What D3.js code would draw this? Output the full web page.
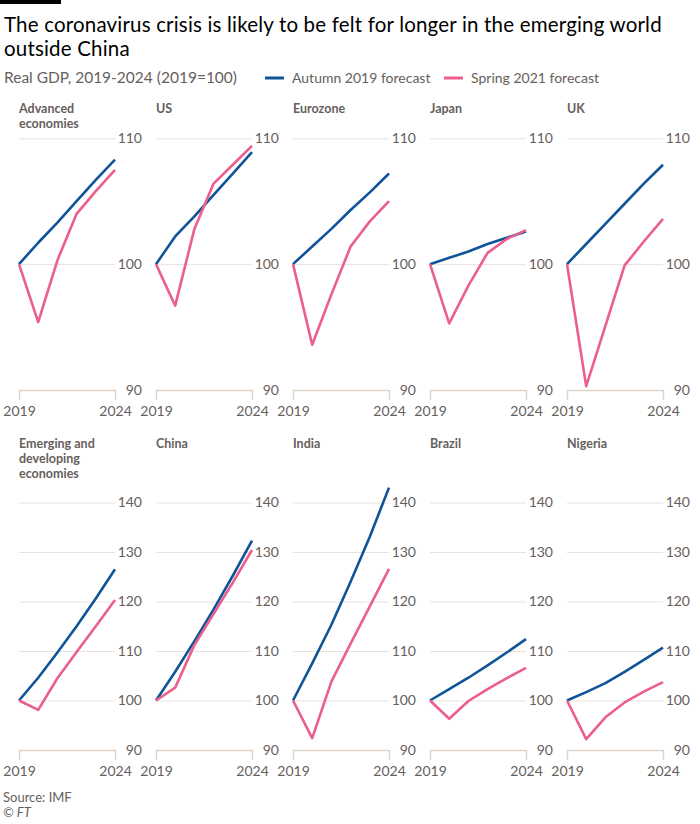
<!DOCTYPE html>
<html>
<head>
<meta charset="utf-8">
<script src="https://cdn.jsdelivr.net/npm/d3@7"></script>
<style>
  body { margin: 0; background: #fff; }
  svg { font-family: Lato, "Noto Sans", sans-serif; }
  .tick text { fill: #66605c; }
</style>
</head>
<body>
<div id="chart"></div>
<script>
// data
const years = [2019, 2020, 2021, 2022, 2023, 2024]
const yearTicks = [2019, 2024]
const panelNames = [
  ["Advanced", "economies"], ["US"], ["Eurozone"], ["Japan"], ["UK"],
  ["Emerging and", "developing", "economies"], ["China"], ["India"], ["Brazil"], ["Nigeria"]
]
const autumn2019 = [
  [100, 101.7, 103.3, 105.0, 106.7, 108.3],
  [100, 102.2, 103.8, 105.5, 107.2, 108.9],
  [100, 101.4, 102.8, 104.3, 105.7, 107.2],
  [100, 100.5, 101.0, 101.6, 102.1, 102.6],
  [100, 101.6, 103.2, 104.8, 106.4, 107.9],
  [100, 104.6, 109.7, 115.0, 120.6, 126.5],
  [100, 105.8, 112.0, 118.4, 125.2, 132.3],
  [100, 107.5, 115.3, 124.0, 133.1, 143.0],
  [100, 102.3, 104.6, 107.1, 109.7, 112.4],
  [100, 101.7, 103.5, 105.8, 108.2, 110.7]
]
const spring2021 = [
  [100, 95.4, 100.3, 104.0, 105.8, 107.5],
  [100, 96.7, 102.8, 106.4, 107.9, 109.4],
  [100, 93.6, 97.6, 101.4, 103.4, 105.0],
  [100, 95.3, 98.3, 100.9, 102.0, 102.7],
  [100, 90.3, 95.1, 99.9, 101.8, 103.6],
  [100, 98.1, 104.5, 109.8, 115.0, 120.3],
  [100, 102.6, 111.2, 117.5, 123.8, 130.4],
  [100, 92.4, 103.8, 111.5, 119.0, 126.6],
  [100, 96.3, 99.9, 102.3, 104.5, 106.6],
  [100, 92.2, 96.6, 99.6, 101.8, 103.7]
]
const topTicks = [90, 100, 110]
const bottomTicks = [90, 100, 110, 120, 130, 140]
const seriesNames = ["Autumn 2019 forecast", "Spring 2021 forecast"]

const W = 700, H = 824
const blue = "#0f5499", pink = "#eb5e8d"
const grey = "#66605c"

const svg = d3.select("#chart").append("svg").attr("width", W).attr("height", H)

// header
svg.append("rect").attr("x", 0).attr("y", 0).attr("width", 61).attr("height", 4).attr("fill", "#000")
svg.append("text").attr("x", 4).attr("y", 32).attr("font-size", 20.5).attr("letter-spacing", 0.18).attr("fill", "#000")
  .text("The coronavirus crisis is likely to be felt for longer in the emerging world")
svg.append("text").attr("x", 4).attr("y", 56).attr("font-size", 20.5).attr("letter-spacing", 0.18).attr("fill", "#000")
  .text("outside China")
svg.append("text").attr("x", 4).attr("y", 83).attr("font-size", 15.5).attr("fill", grey)
  .text("Real GDP, 2019-2024 (2019=100)")

const legend = svg.append("g").attr("transform", "translate(265,78)")
const legX = [0, 179]
seriesNames.forEach((s, i) => {
  legend.append("line").attr("x1", legX[i]).attr("x2", legX[i] + 19)
    .attr("stroke", i === 0 ? blue : pink).attr("stroke-width", 3)
  legend.append("text").attr("x", legX[i] + 27).attr("y", 5).attr("font-size", 14).attr("fill", grey).text(s)
})

// panels
const pw = 96
const rows = [
  {top: 138.3, bottom: 390, ticks: topTicks, titleY: 113},
  {top: 502.5, bottom: 750, ticks: bottomTicks, titleY: 447.7}
]

panelNames.forEach((name, i) => {
  const row = rows[Math.floor(i / 5)]
  const col = i % 5
  const x0 = 19 + col * 137
  const g = svg.append("g").attr("transform", `translate(${x0},0)`)

  const x = d3.scaleLinear().domain([2019, 2024]).range([0, pw])
  const y = d3.scaleLinear().domain([90, d3.max(row.ticks)]).range([row.bottom, row.top])

  // gridlines + labels on the right
  const yAxis = g.append("g").attr("transform", `translate(${pw},0)`)
    .call(d3.axisRight(y).tickValues(row.ticks).tickSize(-pw).tickFormat(d3.format("d")))
  yAxis.select(".domain").remove()
  yAxis.selectAll(".tick line").attr("stroke", "#ebe2d9").attr("stroke-width", 1)
  yAxis.selectAll(".tick text").attr("x", 27).attr("text-anchor", "end")
    .attr("font-size", 14).attr("font-family", "Lato, sans-serif")

  const xAxis = g.append("g").attr("transform", `translate(0,${row.bottom})`)
    .call(d3.axisBottom(x).tickValues(yearTicks).tickSize(10).tickSizeOuter(0).tickFormat(d3.format("d")))
  xAxis.select(".domain").attr("stroke", "#ddd3c9").attr("stroke-width", 1.5)
  xAxis.selectAll(".tick line").attr("stroke", "#ddd3c9").attr("stroke-width", 1.5)
  xAxis.selectAll(".tick text").attr("y", 16).attr("font-size", 14).attr("font-family", "Lato, sans-serif")

  // panel title
  name.forEach((t, k) => {
    g.append("text").attr("x", 0).attr("y", row.titleY + k * 15)
      .attr("font-size", 12.5).attr("font-weight", "bold").attr("fill", grey).text(t)
  })

  const line = d3.line().x((d, j) => x(years[j])).y(d => y(d))
  g.append("path").attr("d", line(autumn2019[i])).attr("fill", "none")
    .attr("stroke", blue).attr("stroke-width", 2.6).attr("stroke-linejoin", "round")
  g.append("path").attr("d", line(spring2021[i])).attr("fill", "none")
    .attr("stroke", pink).attr("stroke-width", 2.6).attr("stroke-linejoin", "round")
})

// footer
svg.append("text").attr("x", 3).attr("y", 802).attr("font-size", 13).attr("fill", grey).text("Source: IMF")
svg.append("text").attr("x", 3).attr("y", 817).attr("font-size", 13).attr("fill", grey)
  .attr("font-style", "italic").text("© FT")
</script>
</body>
</html>
